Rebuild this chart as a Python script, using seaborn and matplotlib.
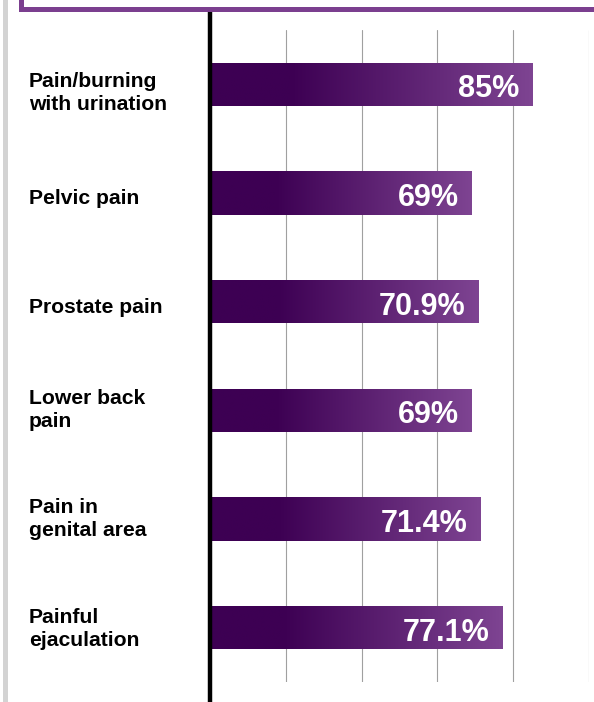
import numpy as np
import pandas as pd
import matplotlib
matplotlib.use("Agg")
import matplotlib.pyplot as plt
import matplotlib.transforms as mtransforms
from matplotlib.colors import LinearSegmentedColormap
from matplotlib.patches import Rectangle
from matplotlib.lines import Line2D
import seaborn as sns

# ------------------------------------------------------------
# Daten
# ------------------------------------------------------------
symptoms = [
    "Pain/burning\nwith urination",
    "Pelvic pain",
    "Prostate pain",
    "Lower back\npain",
    "Pain in\ngenital area",
    "Painful\nejaculation",
]
percent = [85, 69, 70.9, 69, 71.4, 77.1]
value_labels = ["85%", "69%", "70.9%", "69%", "71.4%", "77.1%"]
grid_ticks = [20, 40, 60, 80, 100]

DARK = "#3d0053"
LIGHT = "#7e4492"
PURPLE_BOX = "#7b3f8f"

sns.set_style("white")
plt.rcParams["font.family"] = ["Liberation Sans", "DejaVu Sans"]

W, H = 594, 702
fig = plt.figure(figsize=(W / 100, H / 100), dpi=100)
ax = fig.add_axes([210 / W, (H - 682) / H, (589 - 210) / W, (682 - 30) / H])

df = pd.DataFrame({"symptom": symptoms, "pct": percent})
sns.barplot(data=df, x="pct", y="symptom", orient="h", width=0.4,
            color=DARK, ax=ax, zorder=3)

ax.set_xlim(0, 100)
ax.set_ylim(len(symptoms) - 0.5, -0.5)
xlim, ylim = ax.get_xlim(), ax.get_ylim()

# Verlauf in jedem Balken (links dunkel, rechts heller)
cmap = LinearSegmentedColormap.from_list("purp", [(0, DARK), (0.25, DARK), (1, LIGHT)])
grad = np.linspace(0, 1, 256).reshape(1, -1)
for patch in ax.patches:
    x0, y0 = patch.get_x(), patch.get_y()
    w, h = patch.get_width(), patch.get_height()
    im = ax.imshow(grad, cmap=cmap, aspect="auto", extent=[x0, x0 + w, y0 + h, y0],
                   zorder=4, interpolation="bilinear")
    im.set_clip_path(patch)
    patch.set_edgecolor("none")

ax.set_xlim(xlim)
ax.set_ylim(ylim)

# Wertbeschriftungen
for patch, lab in zip(ax.patches, value_labels):
    ax.annotate(lab, (patch.get_x() + patch.get_width(), patch.get_y() + patch.get_height() / 2),
                xytext=(-13, -5), textcoords="offset pixels", ha="right", va="center",
                color="white", fontsize=22, fontweight="bold", zorder=6)

# Gitter
ax.set_xticks(grid_ticks)
ax.grid(axis="x", color="#a0a0a0", linewidth=0.8, zorder=0)
ax.grid(axis="y", visible=False)
ax.tick_params(axis="x", length=0, labelbottom=False)
ax.set_xlabel("")
ax.set_ylabel("")

# Kategorien-Beschriftung links
ax.set_yticks(range(len(symptoms)))
ax.set_yticklabels([])
ax.tick_params(axis="y", which="major", length=0)
ax.set_yticks(np.arange(-0.5, len(symptoms), 1), minor=True)
ax.tick_params(axis="y", which="minor", length=4, width=1, color="#444444", direction="out")

# Textfelder im Original sind nicht ganz mittig -> kleine Verschiebung in Pixeln
nudge_px = [8.5, 5, 6, 0, 0, 1.5]
trans = mtransforms.blended_transform_factory(fig.transFigure, ax.transData)
for i, s in enumerate(symptoms):
    off = mtransforms.ScaledTranslation(0, -nudge_px[i] / 100, fig.dpi_scale_trans)
    ax.text(29 / W, i, s, transform=trans + off, ha="left", va="center",
            fontsize=15.2, fontweight="bold", color="black", linespacing=1.25)

for sp in ax.spines.values():
    sp.set_visible(False)

# dicke Achse, ragt oben und unten über die Achsen hinaus
ax.add_line(Line2D([0, 0], [1.029, -0.05], transform=ax.transAxes, color="black",
                   linewidth=3.2, solid_capstyle="butt", clip_on=False, zorder=7))

# Rahmen oben und graue Linie links
fig.add_artist(Rectangle((21 / W, (H - 8.5) / H), 1.0, 0.1, transform=fig.transFigure,
                         facecolor="white", edgecolor=PURPLE_BOX, linewidth=3.6))
fig.add_artist(Rectangle((3 / W, 0), 4.5 / W, 1, transform=fig.transFigure,
                         facecolor="#d3d3d3", edgecolor="none"))

fig.savefig("out.png", dpi=100)
